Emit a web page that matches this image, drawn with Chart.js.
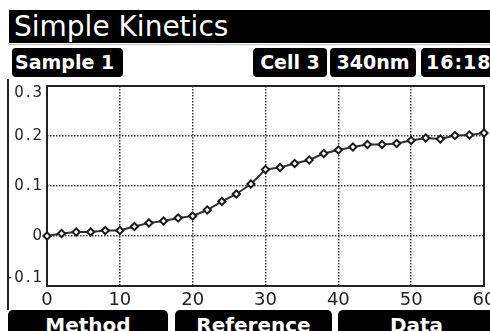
<!DOCTYPE html>
<html>
<head>
<meta charset="utf-8">
<script src="https://cdn.jsdelivr.net/npm/chart.js@4.4.1/dist/chart.umd.min.js"></script>
<style>
  html, body { margin: 0; padding: 0; background: #fff; }
  body { width: 490px; height: 331px; position: relative; overflow: hidden; font-family: "DejaVu Sans", sans-serif; }
  .bar { position: absolute; background: #000; color: #fff; white-space: nowrap; overflow: hidden; }
  #title { left: 9px; top: 10px; width: 481px; height: 33px; font-size: 28px; line-height: 33px; padding-left: 5px; box-sizing: border-box; }
  #titleLine { position: absolute; left: 9px; top: 44px; width: 481px; height: 1px; background: #bbb; }
  .tag { top: 48px; height: 29px; border-radius: 4px; font-weight: bold; font-size: 19px; line-height: 29px; box-sizing: border-box; }
  .btn { top: 310px; height: 30px; border-radius: 5px 5px 0 0; font-weight: bold; font-size: 20px; line-height: 31px; text-align: center; }
  #frame { position: absolute; left: 7px; top: 79px; width: 2px; height: 231px; background: #222; }
  #wrap { position: absolute; left: 0; top: 80px; width: 490px; height: 230px; }
</style>
</head>
<body>
<div id="title" class="bar"></div>
<div id="titleLine"></div>
<div id="frame"></div>
<div id="wrap"><canvas id="c" width="490" height="230"></canvas></div>
<script>
// ---- data ----
const titleText = "Simple Kinetics";
const headerTags = ["Sample 1", "Cell 3", "340nm", "16:18"];
const footerButtons = ["Method", "Reference", "Data"];

const timeSec = [0, 2, 4, 6, 8, 10, 12, 14, 16, 18, 20, 22, 24, 26, 28, 30,
                 32, 34, 36, 38, 40, 42, 44, 46, 48, 50, 52, 54, 56, 58, 60];
const absorbance = [0, 0.005, 0.008, 0.008, 0.011, 0.011, 0.019, 0.026, 0.030, 0.036, 0.040,
                    0.052, 0.069, 0.084, 0.104, 0.133, 0.137, 0.145, 0.152, 0.165, 0.172,
                    0.178, 0.183, 0.183, 0.185, 0.191, 0.196, 0.194, 0.201, 0.202, 0.206];
const xTickValues = [0, 10, 20, 30, 40, 50, 60];
const yTickValues = [-0.1, 0, 0.1, 0.2, 0.3];

// ---- chrome (real text) ----
document.getElementById('title').textContent = titleText;
const tagBoxes = [[12, 111, 3, 'left'], [253, 74, 0, 'center'], [330, 86, 0, 'center'], [421, 80, 5, 'left']];
headerTags.forEach((t, i) => {
  const d = document.createElement('div');
  d.className = 'bar tag';
  const b = tagBoxes[i];
  d.style.left = b[0] + 'px'; d.style.width = b[1] + 'px';
  d.style.paddingLeft = b[2] + 'px'; d.style.textAlign = b[3];
  if (i === 3) d.style.letterSpacing = '1px';
  d.textContent = t;
  document.body.appendChild(d);
});
const btnBoxes = [[8, 160], [175, 157], [338, 157]];
footerButtons.forEach((t, i) => {
  const d = document.createElement('div');
  d.className = 'bar btn';
  d.style.left = btnBoxes[i][0] + 'px'; d.style.width = btnBoxes[i][1] + 'px';
  d.textContent = t;
  document.body.appendChild(d);
});

// ---- chart ----
const framePlugin = {
  id: 'frame',
  beforeDatasetsDraw(chart) {
    const {ctx, chartArea: a} = chart;
    ctx.save();
    ctx.strokeStyle = '#222';
    ctx.lineWidth = 2;
    ctx.strokeRect(a.left, a.top, a.right - a.left, a.bottom - a.top);
    ctx.restore();
  }
};

new Chart(document.getElementById('c'), {
  type: 'line',
  data: {
    datasets: [{
      data: timeSec.map((t, i) => ({x: t, y: absorbance[i]})),
      borderColor: '#333',
      borderWidth: 2,
      pointStyle: 'rectRot',
      pointRadius: 3.6,
      pointBorderWidth: 2,
      pointBorderColor: '#1a1a1a',
      pointBackgroundColor: '#fff',
      tension: 0,
      clip: false
    }]
  },
  options: {
    responsive: false,
    animation: false,
    events: [],
    layout: { padding: { top: 5, right: 3, left: 0, bottom: 0 } },
    plugins: { legend: { display: false }, tooltip: { enabled: false } },
    scales: {
      x: {
        type: 'linear', min: 0, max: 60,
        afterBuildTicks(s) { s.ticks = xTickValues.map(v => ({value: v})); },
        afterFit(s) { s.height = 24; s.paddingLeft = 0; s.paddingRight = 0; },
        grid: { color: '#3a3a3a', lineWidth: 1.5, drawTicks: false },
        border: { display: false, dash: [1.5, 1.5] },
        ticks: { color: '#222', padding: 4, maxRotation: 0, autoSkip: false,
                 font: { family: 'DejaVu Sans', size: 18 } }
      },
      y: {
        type: 'linear', min: -0.1, max: 0.3,
        afterBuildTicks(s) { s.ticks = yTickValues.map(v => ({value: v})); },
        afterFit(s) {
          s.width = 47; s.paddingTop = 0; s.paddingBottom = 0;
          if (!s._wrapped) {
            const orig = s.drawLabels;
            s.drawLabels = function (ca) {
              const items = this.getLabelItems(ca);
              if (items.length) {
                items[0].options.textBaseline = 'bottom';
                items[items.length - 1].options.textBaseline = 'top';
              }
              this.ctx.save();
              this.ctx.letterSpacing = '2px';
              orig.call(this, ca);
              this.ctx.restore();
            };
            s._wrapped = true;
          }
        },
        grid: { color: '#3a3a3a', lineWidth: 1.5, drawTicks: false },
        border: { display: false, dash: [1.5, 1.5] },
        ticks: { color: '#222', padding: 3, autoSkip: false,
                 font: { family: 'DejaVu Sans', size: 15 },
                 callback: v => String(Math.round(v * 10) / 10) }
      }
    }
  },
  plugins: [framePlugin]
});
</script>
</body>
</html>
